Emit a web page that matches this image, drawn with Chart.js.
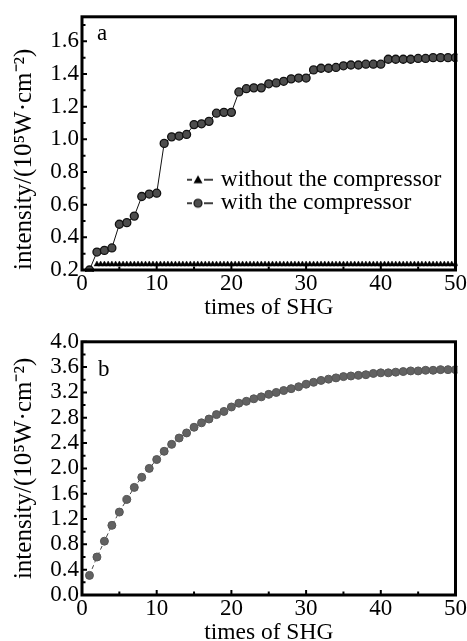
<!DOCTYPE html>
<html><head><meta charset="utf-8">
<script src="https://cdn.jsdelivr.net/npm/chart.js@4"></script>
<style>
html,body{margin:0;padding:0;background:#fff;overflow:hidden;width:467px;height:641px;}
#ca{position:absolute;left:0;top:0;}
#cb{position:absolute;left:0;top:325px;}
</style></head><body>
<canvas id="ca" width="467" height="320"></canvas>
<canvas id="cb" width="467" height="320"></canvas>
<script>
// ---------- data ----------
const shgTimes = [1,2,3,4,5,6,7,8,9,10,11,12,13,14,15,16,17,18,19,20,21,22,23,24,25,26,27,28,29,30,31,32,33,34,35,36,37,38,39,40,41,42,43,44,45,46,47,48,49,50];
const withCompressor = [0.20,0.31,0.32,0.335,0.48,0.49,0.53,0.65,0.665,0.67,0.975,1.015,1.02,1.03,1.09,1.095,1.11,1.16,1.165,1.165,1.29,1.31,1.315,1.315,1.34,1.345,1.355,1.37,1.375,1.375,1.425,1.435,1.435,1.44,1.45,1.455,1.455,1.46,1.46,1.46,1.49,1.49,1.49,1.49,1.495,1.495,1.50,1.50,1.50,1.50];
const withoutTimes = [2,2.5,3,3.5,4,4.5,5,5.5,6,6.5,7,7.5,8,8.5,9,9.5,10,10.5,11,11.5,12,12.5,13,13.5,14,14.5,15,15.5,16,16.5,17,17.5,18,18.5,19,19.5,20,20.5,21,21.5,22,22.5,23,23.5,24,24.5,25,25.5,26,26.5,27,27.5,28,28.5,29,29.5,30,30.5,31,31.5,32,32.5,33,33.5,34,34.5,35,35.5,36,36.5,37,37.5,38,38.5,39,39.5,40,40.5,41,41.5,42,42.5,43,43.5,44,44.5,45,45.5,46,46.5,47,47.5,48,48.5,49,49.5,50];
const withoutCompressor = [0.235,0.235,0.235,0.235,0.235,0.235,0.235,0.235,0.235,0.235,0.235,0.235,0.235,0.235,0.235,0.235,0.235,0.235,0.235,0.235,0.235,0.235,0.235,0.235,0.235,0.235,0.235,0.235,0.235,0.235,0.235,0.235,0.235,0.235,0.235,0.235,0.235,0.235,0.235,0.235,0.235,0.235,0.235,0.235,0.235,0.235,0.235,0.235,0.235,0.235,0.235,0.235,0.235,0.235,0.235,0.235,0.235,0.235,0.235,0.235,0.235,0.235,0.235,0.235,0.235,0.235,0.235,0.235,0.235,0.235,0.235,0.235,0.235,0.235,0.235,0.235,0.235,0.235,0.235,0.235,0.235,0.235,0.235,0.235,0.235,0.235,0.235,0.235,0.235,0.235,0.235,0.235,0.235,0.235,0.235,0.235,0.235];
const intensityB = [0.31,0.60,0.85,1.10,1.31,1.51,1.70,1.86,2.00,2.14,2.27,2.38,2.48,2.56,2.65,2.72,2.78,2.85,2.90,2.97,3.03,3.06,3.10,3.13,3.17,3.20,3.23,3.26,3.29,3.33,3.36,3.39,3.41,3.43,3.45,3.46,3.47,3.48,3.50,3.51,3.51,3.52,3.53,3.54,3.54,3.55,3.55,3.56,3.56,3.56];
const seriesNames = ['without the compressor', 'with the compressor'];
const xTitle = 'times of SHG';
const yTitle = 'intensity/(10\u2075W\u00b7cm\u207b\u00b2)';
const panelLabels = ['a', 'b'];

// ---------- helpers ----------
const SERIF = "'Liberation Serif', 'Times New Roman', serif";
Chart.defaults.font.family = SERIF;
Chart.defaults.font.size = 23;
Chart.defaults.color = '#000';

function pairs(xs, ys) { return xs.map((x, i) => ({x: x, y: ys[i]})); }

function minorVals(scale) {
  const v = scale.ticks.map(t => t.value);
  const out = [];
  for (let i = 0; i < v.length - 1; i++) out.push((v[i] + v[i + 1]) / 2);
  if (v.length > 1) {
    const h = (v[1] - v[0]) / 2;
    if (v[v.length - 1] + h <= scale.max + 1e-9) out.push(v[v.length - 1] + h);
    if (v[0] - h >= scale.min - 1e-9) out.push(v[0] - h);
  }
  return out;
}

const frameTicks = {
  id: 'frameTicks',
  afterDatasetsDraw(chart) {
    const {ctx, chartArea: a, scales} = chart;
    const sx = scales.x, sy = scales.y;
    ctx.save();
    ctx.strokeStyle = '#000';
    ctx.lineWidth = 2;
    ctx.beginPath();
    sx.ticks.forEach(t => { const p = sx.getPixelForValue(t.value); ctx.moveTo(p, a.bottom); ctx.lineTo(p, a.bottom - 5); });
    minorVals(sx).forEach(v => { const p = sx.getPixelForValue(v); ctx.moveTo(p, a.bottom); ctx.lineTo(p, a.bottom - 3.5); });
    sy.ticks.forEach(t => { const p = sy.getPixelForValue(t.value); ctx.moveTo(a.left, p); ctx.lineTo(a.left + 5, p); });
    minorVals(sy).forEach(v => { const p = sy.getPixelForValue(v); ctx.moveTo(a.left, p); ctx.lineTo(a.left + 3.5, p); });
    ctx.stroke();
    ctx.lineWidth = 3;
    ctx.strokeRect(a.left, a.top, a.right - a.left, a.bottom - a.top);
    ctx.restore();
  }
};

const panelLabel = {
  id: 'panelLabel',
  afterDraw(chart, args, o) {
    const {ctx, chartArea: a} = chart;
    ctx.save();
    ctx.font = '23px ' + SERIF;
    ctx.fillStyle = '#000';
    ctx.textBaseline = 'alphabetic';
    ctx.fillText(o.text, a.left + o.dx, a.top + o.dy);
    ctx.restore();
  }
};

const legendPlace = {
  id: 'legendPlace',
  afterLayout(chart, args, o) {
    const lg = chart.legend;
    if (!lg || !o || o.x === undefined) return;
    const w = lg.width, h = lg.height;
    lg.left = o.x; lg.top = o.y; lg.right = o.x + w; lg.bottom = o.y + h;
  }
};

function makeSymbol(kind) {
  const c = document.createElement('canvas');
  c.width = 30; c.height = 12;
  const g = c.getContext('2d');
  g.strokeStyle = '#000'; g.lineWidth = 1.5;
  g.beginPath(); g.moveTo(0, 6); g.lineTo(9, 6); g.moveTo(21, 6); g.lineTo(30, 6); g.stroke();
  g.beginPath();
  if (kind === 'triangle') {
    g.moveTo(15, 1.5); g.lineTo(19.5, 9.5); g.lineTo(10.5, 9.5); g.closePath();
    g.fillStyle = '#000'; g.fill();
  } else {
    g.arc(15, 6, 4, 0, Math.PI * 2);
    g.fillStyle = '#4d4d4d'; g.fill();
    g.lineWidth = 1.2; g.strokeStyle = '#111'; g.stroke();
  }
  return c;
}
const symbols = [makeSymbol('triangle'), makeSymbol('circle')];

function axes(yMin, yMax, yStep, yTitleAlign) {
  return {
    x: {
      type: 'linear', min: 0, max: 50,
      grid: {display: false, drawTicks: false},
      border: {display: false},
      ticks: {stepSize: 10, padding: 0, autoSkip: false, maxRotation: 0, font: {size: 23}, color: '#000'},
      title: {display: true, text: xTitle, font: {size: 23.5}, color: '#000', padding: {top: 0, bottom: -2}},
      afterFit(s) { s.height = 50; }
    },
    y: {
      type: 'linear', min: yMin, max: yMax,
      grid: {display: false, drawTicks: false},
      border: {display: false},
      ticks: {stepSize: yStep, includeBounds: false, padding: 3, autoSkip: false, font: {size: 23}, color: '#000',
              callback: v => Number(v).toFixed(1)},
      title: {display: true, text: yTitle, align: yTitleAlign, font: {size: 25}, color: '#000', padding: {top: 9, bottom: 0}},
      afterFit(s) { s.width = 82; }
    }
  };
}

// ---------- chart a ----------
new Chart(document.getElementById('ca'), {
  type: 'line',
  data: {
    datasets: [
      {
        label: seriesNames[0],
        data: pairs(withoutTimes, withoutCompressor),
        borderColor: '#000', borderWidth: 1,
        pointStyle: 'triangle', pointRadius: 3.3,
        pointBackgroundColor: '#000', pointBorderColor: '#000', pointBorderWidth: 0.5,
        clip: 2
      },
      {
        label: seriesNames[1],
        data: pairs(shgTimes, withCompressor),
        borderColor: '#111', borderWidth: 1,
        pointStyle: 'circle', pointRadius: 4,
        pointBackgroundColor: '#4d4d4d', pointBorderColor: '#111', pointBorderWidth: 1.3,
        clip: 2
      }
    ]
  },
  options: {
    responsive: false, animation: false, devicePixelRatio: 1,
    layout: {padding: {left: 0, right: 9, top: 10, bottom: 0}},
    scales: axes(0.2, 1.75, 0.2, 'start'),
    plugins: {
      tooltip: {enabled: false},
      legend: {
        display: true, position: 'chartArea', align: 'start',
        labels: {
          usePointStyle: true, pointStyleWidth: 22, padding: 0,
          font: {size: 23.5}, color: '#000',
          generateLabels(chart) {
            const items = Chart.defaults.plugins.legend.labels.generateLabels(chart);
            items.forEach((it, i) => { it.pointStyle = symbols[i]; it.fontColor = '#000'; });
            return items;
          }
        }
      },
      legendPlace: {x: 187, y: 168},
      panelLabel: {text: panelLabels[0], dx: 15, dy: 23}
    }
  },
  plugins: [frameTicks, panelLabel, legendPlace]
});

// ---------- chart b ----------
new Chart(document.getElementById('cb'), {
  type: 'line',
  data: {
    datasets: [
      {
        label: 'intensity',
        data: pairs(shgTimes, intensityB),
        borderColor: '#444', borderWidth: 1, borderDash: [4, 3],
        pointStyle: 'circle', pointRadius: 4,
        pointBackgroundColor: '#626262', pointBorderColor: '#555', pointBorderWidth: 1,
        clip: 2
      }
    ]
  },
  options: {
    responsive: false, animation: false, devicePixelRatio: 1,
    layout: {padding: {left: 0, right: 9, top: 9, bottom: 0}},
    scales: axes(0, 4.0, 0.4, 'center'),
    plugins: {
      tooltip: {enabled: false},
      legend: {display: false},
      panelLabel: {text: panelLabels[1], dx: 16, dy: 34}
    }
  },
  plugins: [frameTicks, panelLabel]
});
</script>
</body></html>
